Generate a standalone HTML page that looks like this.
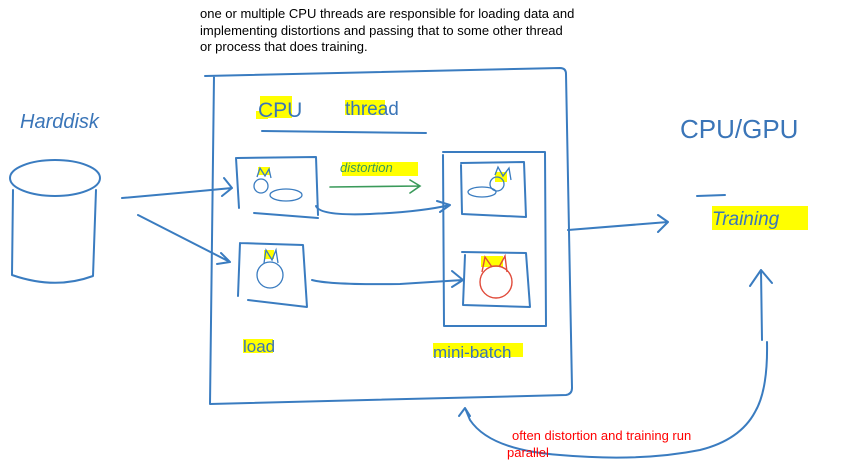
<!DOCTYPE html>
<html><head><meta charset="utf-8"><style>
body{margin:0;background:#fff;width:842px;height:466px;overflow:hidden;position:relative;font-family:"Liberation Sans",sans-serif}
.t{position:absolute;left:200px;top:6px;font-size:13px;line-height:16.5px;color:#000}
.r{position:absolute;color:#f00;font-size:13px;line-height:17px}
svg{position:absolute;left:0;top:0}
.h{font-family:"Liberation Sans",sans-serif;fill:#3a75b8}
</style></head><body>
<svg width="842" height="466" viewBox="0 0 842 466">
<g fill="#ffff00">
<rect x="260" y="96" width="32" height="22"/>
<rect x="345" y="100" width="40" height="15"/>
<rect x="342" y="162" width="76" height="14"/>
<rect x="256" y="111" width="12" height="8"/>
<rect x="258" y="167" width="12" height="8"/>
<rect x="264" y="250" width="10" height="9"/>
<rect x="495" y="172" width="12" height="10"/>
<rect x="481" y="256" width="22" height="11"/>
<rect x="243" y="339" width="30" height="14"/>
<rect x="433" y="343" width="90" height="14"/>
<rect x="712" y="206" width="96" height="24"/>
</g>
<g fill="none" stroke="#3a7cc0" stroke-width="2" stroke-linecap="round" stroke-linejoin="round">
<path d="M205 76 L560 68 Q566 68 566 74 L572 388 Q572 394 566 395 L210 404 L214 76"/>
<path d="M262 131 L426 133"/>
<path d="M237 158 L316 157 L318 215 M236 158 L239 208 M254 213 L318 218"/>
<path d="M240 243 L303 245 L307 307 L248 300 M240 243 L238 296"/>
<path d="M443 152 L545 152 L546 326 L444 326 L443 155"/>
<path d="M461 163 L524 162 L526 217 L462 214 L461 165"/>
<path d="M462 252 L526 253 L530 307 L463 305 L465 255"/>
<ellipse cx="55" cy="178" rx="45" ry="18"/>
<path d="M13 190 L12 275 Q55 290 93 276 L96 190"/>
<path d="M122 198 Q180 193 232 188 M224 178 L232 188 L222 196"/>
<path d="M138 215 L230 262 M221 253 L230 262 L217 264"/>
<path d="M316 206 Q320 216 370 214 Q420 212 450 205 M437 201 L450 205 L440 212"/>
<path d="M312 280 Q330 285 400 284 L463 280 M452 271 L463 280 L452 287"/>
<path d="M568 230 L668 222 M658 215 L668 222 L658 232"/>
<path d="M762 340 L761 270 M750 286 L761 270 L772 283"/>
<path d="M767 342 Q768 390 755 412 Q740 440 700 450 Q640 462 560 455 Q490 450 470 420 L465 408 M459 416 L465 408 L470 416"/>
<path d="M697 196 L725 195"/>
</g>
<path d="M330 187 L420 186 M410 180 L420 186 L410 193" fill="none" stroke="#3a9a5a" stroke-width="1.6" stroke-linecap="round"/>
<g fill="none" stroke="#3a7cc0" stroke-width="1.3">
<circle cx="261" cy="186" r="7"/><ellipse cx="286" cy="195" rx="16" ry="6"/>
<path d="M257 177 L260 168 L265 176 L269 169 L271 178"/>
<circle cx="270" cy="275" r="13"/><path d="M264 263 L266 250 L272 260 L276 250 L278 263"/>
<circle cx="497" cy="184" r="7"/><ellipse cx="482" cy="192" rx="14" ry="5"/>
<path d="M495 175 L498 167 L503 176 L509 168 L511 180"/>
</g>
<g fill="none" stroke="#e04a3a" stroke-width="1.4">
<circle cx="496" cy="282" r="16"/><path d="M482 272 L485 257 L492 267 M499 267 L505 256 L507 272"/>
</g>
<text class="h" x="20" y="128" font-size="20" font-style="italic">Harddisk</text>
<text class="h" x="258" y="117" font-size="21" fill="#2a6a3a">CPU</text>
<text class="h" x="345" y="115" font-size="19">thread</text>
<text x="340" y="172" font-size="13" fill="#3a9a5a" font-style="italic">distortion</text>
<text class="h" x="243" y="352" font-size="17">load</text>
<text class="h" x="433" y="358" font-size="17">mini-batch</text>
<text class="h" x="680" y="138" font-size="26">CPU/GPU</text>
<text class="h" x="712" y="225" font-size="19" font-style="italic">Training</text>
</svg>
<div class="t">one or multiple CPU threads are responsible for loading data and<br>implementing distortions and passing that to some other thread<br>or process that does training.</div>
<div class="r" style="left:512px;top:427px">often distortion and training run</div>
<div class="r" style="left:507px;top:444px">parallel</div>
</body></html>
